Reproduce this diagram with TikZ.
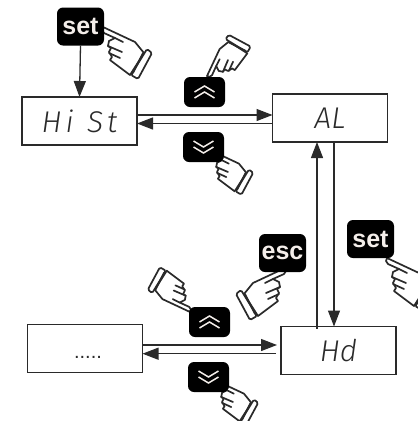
\documentclass[tikz,border=0pt]{standalone}
\usepackage{fontspec}
\setmainfont{Liberation Sans}
\newfontfamily\segfont{Fira Sans Light}[ItalicFont={Fira Sans Light Italic}]
\usetikzlibrary{arrows.meta}
\definecolor{ink}{HTML}{2A2A2A}
\definecolor{keytext}{HTML}{F4EEEA}
\tikzset{
  disp/.style={draw=ink,line width=1.5pt,minimum width=115pt,minimum height=48pt,inner sep=0pt,outer sep=0pt,
    font=\segfont\itshape\fontsize{30}{30}\selectfont,text=ink},
  keybtn/.style={fill=black,rounded corners=6pt,inner sep=0pt,outer sep=0pt,minimum width=41pt,minimum height=30pt},
  txtbtn/.style={keybtn,minimum width=47pt,minimum height=38pt,text=keytext,font=\bfseries\fontsize{25}{25}\selectfont},
  link/.style={draw=ink,line width=1.3pt},
  tipped/.style={link,-{Triangle[length=16pt,width=12pt]}},
  handline/.style={draw=ink,line width=1.7pt,line join=round,line cap=round},
  chev/.style={draw=keytext,line width=1.5pt,line join=miter},
  hand/.pic={
    \path[handline,fill=white] (0,0) -- (32,15) -- (41,26) -- (27,48) -- (7,33) -- (9,30) -- (6,25) -- (8,21) -- (5,19) -- (6,14) -- (12,11) -- (1,6) -- (-1,3) -- cycle;
    \path[handline,fill=white,rounded corners=1.5pt] (44,22) -- (49,26) -- (35,52) -- (28,48) -- cycle;
    \path[handline] (40,26) -- (30,46);
    \path[handline] (12,11) -- (20,15);
    \path[handline] (5,19) -- (19,25);
    \path[handline] (6,26) -- (17,31);
  }
}
\begin{document}
\begin{tikzpicture}[x=1pt,y=-1pt]
\useasboundingbox (0,0) rectangle (418,421);
\clip (0,0) rectangle (418,421);

\node[disp] (hist) at (79.5,121) {H\hspace{4pt}i\hspace{5pt} S\hspace{4pt}t};
\node[disp] (al) at (330,118) {AL};
\node[disp] (hd) at (338.5,350.5) {Hd};
\node[disp] (dots) at (85,348.5) {};
\node[font=\fontsize{20}{20}\selectfont,text=ink,inner sep=0pt] (dottext) at (88,357) {.....};

\pic[scale=1] at (103,27) {hand};
\pic[rotate=90,scale=.84] at (207,76) {hand};
\pic[scale=.84] at (212,151) {hand};
\pic[rotate=180,scale=.86] at (190,312) {hand};
\pic[xscale=-1] at (285,268) {hand};
\pic[scale=1] at (387,258) {hand};
\pic[scale=.84] at (217,381) {hand};

\node[txtbtn] (set1) at (80.5,26.5) {set};
\node[txtbtn] (esc) at (282.5,253) {esc};
\node[txtbtn] (set2) at (370.5,239) {set};
\node[keybtn] (up1) at (204.5,92) {};
\node[keybtn] (down1) at (203.5,147) {};
\node[keybtn] (up2) at (209.5,322) {};
\node[keybtn] (down2) at (208.5,377) {};

\foreach \b in {up1,up2}{
  \draw[chev] ([shift={(-10,0)}]\b.center) -- ([shift={(0,-6)}]\b.center) -- ([shift={(10,0)}]\b.center);
  \draw[chev] ([shift={(-10,6)}]\b.center) -- ([shift={(0,0)}]\b.center) -- ([shift={(10,6)}]\b.center);
}
\foreach \b in {down1,down2}{
  \draw[chev] ([shift={(-10,-6)}]\b.center) -- ([shift={(0,0)}]\b.center) -- ([shift={(10,-6)}]\b.center);
  \draw[chev] ([shift={(-10,0)}]\b.center) -- ([shift={(0,6)}]\b.center) -- ([shift={(10,0)}]\b.center);
}

\draw[tipped] (set1.south) -- (hist.north);
\draw[tipped] ([yshift=6pt]hist.east) -- ([yshift=3pt]al.west);
\draw[tipped] ([yshift=-5.5pt]al.west) -- ([yshift=-2.5pt]hist.east);
\draw[tipped,shorten >=4pt] ([yshift=3.5pt]dots.east) -- ([yshift=5.5pt]hd.west);
\draw[tipped,shorten <=5pt] ([yshift=-3.2pt]hd.west) -- ([yshift=-5.2pt]dots.east);
\draw[tipped] ([xshift=-21.5pt,yshift=-2pt]hd.north) -- ([xshift=-13pt]al.south);
\draw[tipped] ([xshift=4pt]al.south) -- ([xshift=-4.5pt]hd.north);
\end{tikzpicture}
\end{document}
